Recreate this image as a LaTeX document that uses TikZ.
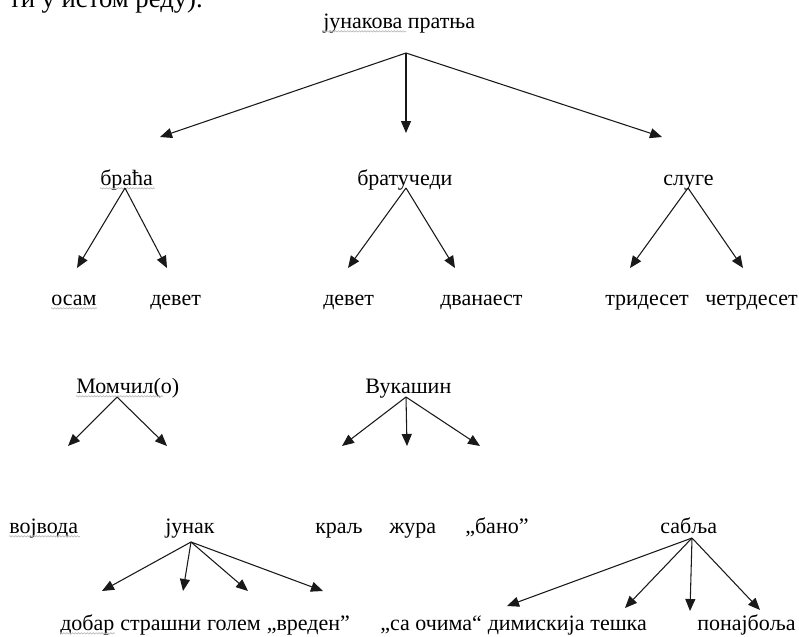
\documentclass[tikz,border=0pt]{standalone}
\usepackage{fontspec}
\setmainfont{Liberation Serif}
\newfontfamily\serbfont{Liberation Serif}
\usetikzlibrary{arrows.meta,decorations.pathmorphing}

\begin{document}
\begin{tikzpicture}[x=0.75pt,y=-0.75pt,
    word/.style={inner sep=0pt,anchor=base west,font=\serbfont\fontsize{16.5}{20}\selectfont},
    arr/.style={-{Triangle[length=9pt,width=7.5pt]},line width=0.8pt,black!90},
    squig/.style={gray!55,line width=0.5pt,decorate,decoration={snake,amplitude=0.5pt,segment length=2.2pt}}]
    \useasboundingbox (0,0) rectangle (799,636);
    \clip (0,0) rectangle (799,636);
    %line of the page above, cut by the edge
    \node[word,anchor=base east,font=\serbfont\fontsize{20}{24}\selectfont] (prev) at (203,7) {ти у истом реду).};
    %words
    \node[word] (root) at (323,28) {јунакова пратња};
    \node[word] (braca) at (100,185) {браћа};
    \node[word] (bratuc) at (357,185) {братучеди};
    \node[word] (sluge) at (663,185) {слуге};
    \node[word] (osam) at (51,305) {осам};
    \node[word] (devetA) at (150,305) {девет};
    \node[word] (devetB) at (323,305) {девет};
    \node[word] (dvanaest) at (440,305) {дванаест};
    \node[word] (trideset) at (605,305) {тридесет};
    \node[word] (cetrdeset) at (705,305) {четрдесет};
    \node[word] (momcil) at (76,393) {Момчил(о)};
    \node[word] (vukasin) at (365,393) {Вукашин};
    \node[word] (vojvoda) at (9,533) {војвода};
    \node[word] (junak) at (165,533) {јунак};
    \node[word] (kralj) at (315,533) {краљ};
    \node[word] (zura) at (389,533) {жура};
    \node[word] (bano) at (465,533) {„бано”};
    \node[word] (sablja) at (660,533) {сабља};
    %last row, one space apart
    \node[word] (dobar) at (60,630) {добар};
    \node[word] (strasni) at ([xshift=4pt]dobar.base east) {страшни};
    \node[word] (golem) at ([xshift=4pt]strasni.base east) {голем};
    \node[word] (vreden) at ([xshift=4pt]golem.base east) {„вреден”};
    \node[word] (ocima) at (380,630) {„са очима“};
    \node[word] (dimiskija) at ([xshift=4pt]ocima.base east) {димискија};
    \node[word] (teska) at ([xshift=4pt]dimiskija.base east) {тешка};
    \node[word] (najbolja) at (697,630) {понајбоља};
    %spelling marks
    \draw[squig] ([yshift=-2.5pt]root.base west) -- ++(83,0);
    \draw[squig] ([yshift=-2.5pt]braca.base west) -- ++(55,0);
    \draw[squig] ([yshift=-2.5pt]osam.base west) -- ++(46,0);
    \draw[squig] ([yshift=-2.5pt]momcil.base west) -- ++(87,0);
    \draw[squig] ([yshift=-2.5pt]vojvoda.base west) -- ++(71,0);
    \draw[squig] ([yshift=-2.5pt]dobar.base west) -- ++(55,0);
    %forks under the words
    \coordinate (root-f) at (406,53);
    \coordinate (braca-f) at (125,188);
    \coordinate (bratuc-f) at (406,188);
    \coordinate (sluge-f) at (688,188);
    \coordinate (momcil-f) at (117,397);
    \coordinate (vukasin-f) at (406,397);
    \coordinate (junak-f) at (191,542);
    \coordinate (sablja-f) at (692,538);
    %arrow ends
    \coordinate (r1) at (160,137);
    \coordinate (r2) at (406,133);
    \coordinate (r3) at (662,137);
    \coordinate (b1) at (77,268);
    \coordinate (b2) at (167,268);
    \coordinate (c1) at (348,268);
    \coordinate (c2) at (455,268);
    \coordinate (s1) at (630,268);
    \coordinate (s2) at (743,268);
    \coordinate (m1) at (68,446);
    \coordinate (m2) at (167,446);
    \coordinate (v1) at (342,446);
    \coordinate (v2) at (407,446);
    \coordinate (v3) at (480,446);
    \coordinate (j1) at (102,591);
    \coordinate (j2) at (183,591);
    \coordinate (j3) at (248,591);
    \coordinate (j4) at (323,591);
    \coordinate (a1) at (507,606);
    \coordinate (a2) at (625,608);
    \coordinate (a3) at (690,611);
    \coordinate (a4) at (760,610);
    %draw arrows
    \foreach \t in {r1,r2,r3} \draw[arr] (root-f) -- (\t);
    \foreach \t in {b1,b2} \draw[arr] (braca-f) -- (\t);
    \foreach \t in {c1,c2} \draw[arr] (bratuc-f) -- (\t);
    \foreach \t in {s1,s2} \draw[arr] (sluge-f) -- (\t);
    \foreach \t in {m1,m2} \draw[arr] (momcil-f) -- (\t);
    \foreach \t in {v1,v2,v3} \draw[arr] (vukasin-f) -- (\t);
    \foreach \t in {j1,j2,j3,j4} \draw[arr] (junak-f) -- (\t);
    \foreach \t in {a1,a2,a3,a4} \draw[arr] (sablja-f) -- (\t);
\end{tikzpicture}
\end{document}
